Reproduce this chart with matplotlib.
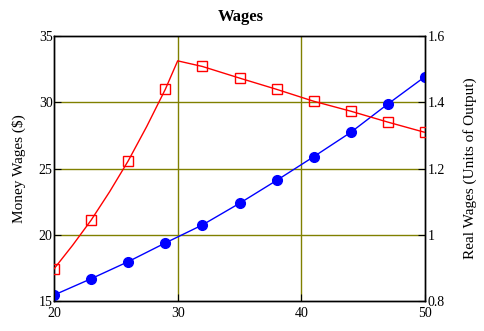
import matplotlib
matplotlib.use("Agg")
import matplotlib.pyplot as plt

plt.rcParams['font.family'] = ['Liberation Serif', 'DejaVu Serif']

# money wages ($) - blue, left axis
money_x = [20, 23, 26, 29, 32, 35, 38, 41, 44, 47, 50]
money_wages = [15.45, 16.68, 17.97, 19.38, 20.74, 22.37, 24.1, 25.89, 27.73, 29.87, 31.93]

# real wages (units of output) - red, right axis
real_x = [20, 23, 26, 29, 32, 35, 38, 41, 44, 47, 50]
real_wages = [0.897, 1.044, 1.223, 1.439, 1.508, 1.473, 1.439, 1.403, 1.373, 1.340, 1.309]
# the red curve has its peak at 30, between the markers
real_line_x = [20, 21.5, 23, 24.5, 26, 27.5, 29, 30, 32, 35, 38, 41, 44, 47, 50]
real_line = [0.897, 0.968, 1.044, 1.130, 1.223, 1.327, 1.439, 1.525, 1.508, 1.473, 1.439, 1.403, 1.373, 1.340, 1.309]

left_ticks = [15, 20, 25, 30, 35]
right_ticks = [0.8, 1.0, 1.2, 1.4, 1.6]
right_labels = ['0.8', '1', '1.2', '1.4', '1.6']
x_ticks = [20, 30, 40, 50]

grid_col = '#808000'

fig = plt.figure(figsize=(4.84, 3.31), dpi=100)
ax = fig.add_axes([54/484, 30/331, 371/484, 265/331])

ax.set_xlim(20, 50)
ax.set_ylim(15, 35)
ax.set_xticks(x_ticks)
ax.set_yticks(left_ticks)
ax.tick_params(axis='both', direction='in', length=5, labelsize=10, pad=1, color='black')
ax.tick_params(axis='x', pad=4)
for v in [20, 25, 30]:
    ax.axhline(v, color=grid_col, lw=1, zorder=1)
for v in [30, 40]:
    ax.axvline(v, color=grid_col, lw=1, zorder=1)

ax.plot(money_x, money_wages, color='blue', lw=1, zorder=3)
ax.plot(money_x, money_wages, 'o', color='blue', ms=7, zorder=4)
ax.set_ylabel('Money Wages ($)', fontsize=11, labelpad=9)

ax2 = ax.twinx()
ax2.set_ylim(0.8, 1.6)
ax2.set_yticks(right_ticks)
ax2.set_yticklabels(right_labels)
ax2.tick_params(axis='y', direction='in', length=5, labelsize=10, pad=2)
ax2.plot(real_line_x, real_line, color='red', lw=1, zorder=3)
ax2.plot(real_x, real_wages, 's', mfc='none', mec='red', mew=1, ms=6.5, zorder=4)
ax2.set_ylabel('Real Wages (Units of Output)', fontsize=11, labelpad=13)

for a in (ax, ax2):
    for s in a.spines.values():
        s.set_color('black')
        s.set_linewidth(1)

fig.text(241/484, 1 - 17/331, 'Wages', ha='center', va='center', fontsize=12, fontweight='bold')

fig.savefig('out.png', dpi=100)
